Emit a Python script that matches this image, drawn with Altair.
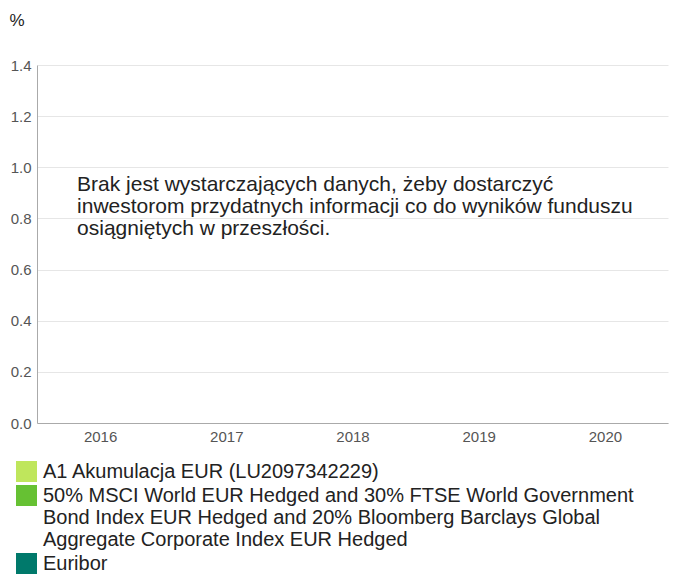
import altair as alt
import pandas as pd

years = ["2016", "2017", "2018", "2019", "2020"]
series = [
    "A1 Akumulacja EUR (LU2097342229)",
    "50% MSCI World EUR Hedged and 30% FTSE World Government\nBond Index EUR Hedged and 20% Bloomberg Barclays Global\nAggregate Corporate Index EUR Hedged",
    "Euribor",
]
colors = ["#bfe65c", "#66c133", "#00796b"]
message = [
    "Brak jest wystarczających danych, żeby dostarczyć",
    "inwestorom przydatnych informacji co do wyników funduszu",
    "osiągniętych w przeszłości.",
]
y_ticks = [0.0, 0.2, 0.4, 0.6, 0.8, 1.0, 1.2, 1.4]

FONT = "Liberation Sans"

legend_df = pd.DataFrame({"year": ["2016"] * 3, "value": [0.0] * 3, "series": series})
msg_df = pd.DataFrame({"year": ["2016"], "value": [0.93], "text": [message]})

x = alt.X("year:O", scale=alt.Scale(domain=years),
          axis=alt.Axis(title=None, labelAngle=0, ticks=False, grid=False,
                        labelPadding=6, labelFontSize=15, labelColor="#555555",
                        domainColor="#aaaaaa", labelFont=FONT))
y = alt.Y("value:Q", scale=alt.Scale(domain=[0, 1.4], nice=False),
          axis=alt.Axis(values=y_ticks, format=".1f", ticks=False, labelPadding=6,
                        labelFontSize=15, labelColor="#555555", labelFont=FONT,
                        domainColor="#aaaaaa", gridColor="#e6e6e6",
                        title="%", titleAngle=0, titleAlign="left", titleBaseline="middle",
                        titleX=-28, titleY=-45, titleFontSize=17, titleFontWeight="normal",
                        titleColor="#222222", titleFont=FONT))

base = alt.Chart(legend_df).mark_square(opacity=0).encode(
    x=x, y=y,
    color=alt.Color("series:N", scale=alt.Scale(domain=series, range=colors),
                    legend=alt.Legend(title=None, orient="none", legendX=-21, legendY=396,
                                      direction="vertical", symbolType="square",
                                      symbolSize=441, symbolOpacity=1, symbolStrokeWidth=0,
                                      labelFontSize=20, labelColor="#222222", labelFont=FONT,
                                      labelOffset=6, labelLimit=800, rowPadding=3, padding=0,
                                      labelExpr="split(datum.label, '\\n')")),
)

msg = alt.Chart(msg_df).mark_text(align="left", baseline="middle", fontSize=21,
                                  color="#222222", font=FONT, lineHeight=22,
                                  dx=-23).encode(
    x=alt.X("year:O", scale=alt.Scale(domain=years), bandPosition=0.5),
    y=alt.Y("value:Q"),
    text="text",
)

chart = alt.layer(base, msg).properties(
    width=631, height=358,
    autosize=alt.AutoSizeParams(type="none"),
    padding={"left": 29, "right": 1, "top": 57, "bottom": 162},
).configure_view(stroke=None).configure_axisY(grid=True)

chart.save("out.html", embed_options={"renderer": "svg", "actions": False})
